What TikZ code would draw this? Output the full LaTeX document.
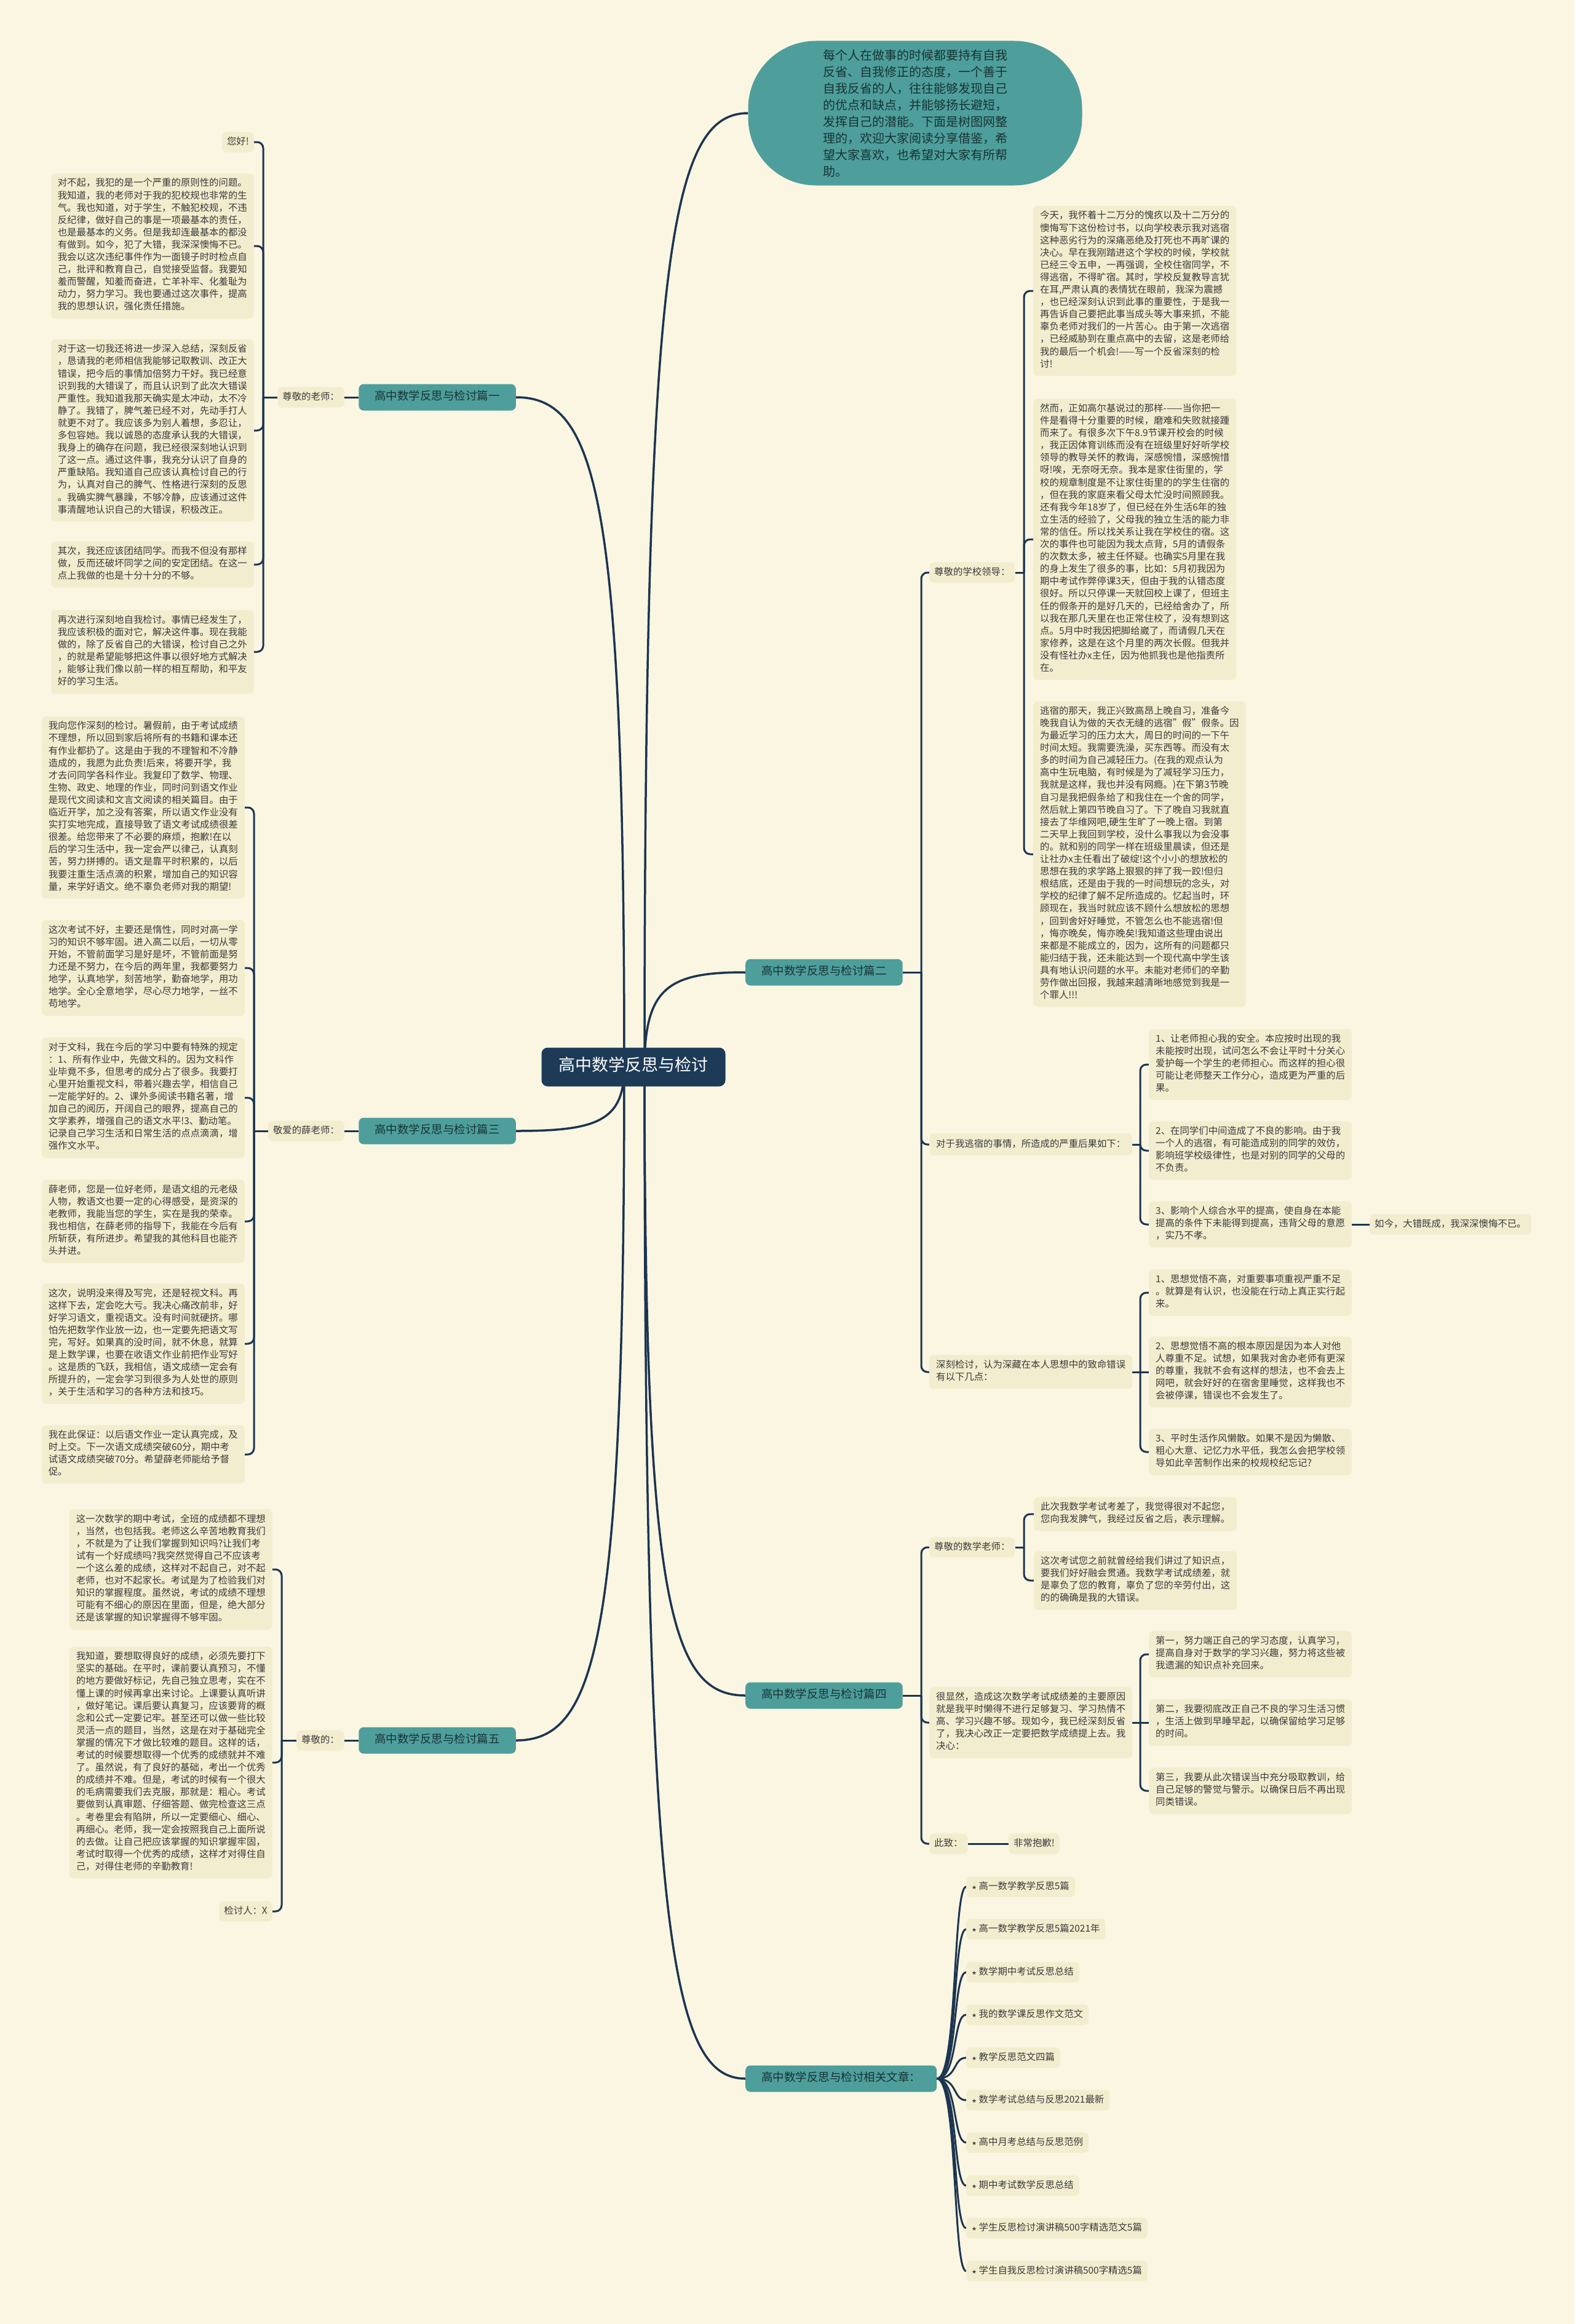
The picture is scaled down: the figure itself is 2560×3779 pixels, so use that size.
\documentclass[tikz,border=0pt]{standalone}
\usepackage{fontspec}
\setmainfont{Noto Sans CJK SC}
\newfontfamily\starfont{DejaVu Sans}
\usetikzlibrary{calc}
\definecolor{bgc}{HTML}{FAF6E2}
\definecolor{boxc}{HTML}{F3EDCF}
\definecolor{linec}{HTML}{1C3550}
\definecolor{tealc}{HTML}{4E9E9C}
\definecolor{navyc}{HTML}{1D3A56}
\definecolor{textc}{HTML}{3A3A3A}
\definecolor{darkt}{HTML}{173434}
\newcommand\fsz{\fontsize{15.4}{20.1}\selectfont}
\newcommand\fbr{\fontsize{18.5}{24}\selectfont}
\newcommand\frt{\fontsize{27}{34}\selectfont}
\newcommand\fintro{\fontsize{20}{27}\selectfont}
\pgfdeclarelayer{bg}
\pgfsetlayers{bg,main}
\tikzset{
 txt/.style={fill=boxc, rounded corners=7pt, inner xsep=11pt, inner ysep=8pt, align=left, text=textc, font=\fsz, execute at begin node=\strut, execute at end node=\strut},
 lbl/.style={txt, inner xsep=8pt, inner ysep=6.5pt},
 itm/.style={txt, inner xsep=9pt, inner ysep=6.5pt},
 branch/.style={fill=tealc, rounded corners=8pt, inner xsep=26pt, inner ysep=9.5pt, font=\fbr, text=darkt, execute at begin node=\strut},
 rootnode/.style={fill=navyc, rounded corners=10pt, inner xsep=28pt, inner ysep=14.5pt, font=\frt, text=white, execute at begin node=\strut},
 intro/.style={fill=tealc, rounded corners=110pt, minimum width=543pt, minimum height=235pt, align=left, font=\fintro, text=darkt, inner sep=0pt},
 conn/.style={draw=linec, line width=3pt},
 brk/.style={conn, rounded corners=10pt}
}
\begin{document}
\begin{tikzpicture}[x=1pt,y=-1pt]
\useasboundingbox (0,0) rectangle (2560,3779);

% ---------- root and branches ----------
\node[rootnode] (root) at (1030,1735) {高中数学反思与检讨};
\node[intro] (intro) at (1488,184) {每个人在做事的时候都要持有自我\\反省、自我修正的态度，一个善于\\自我反省的人，往往能够发现自己\\的优点和缺点，并能够扬长避短，\\发挥自己的潜能。下面是树图网整\\理的，欢迎大家阅读分享借鉴，希\\望大家喜欢，也希望对大家有所帮\\助。};
\node[branch, anchor=east] (p1) at (839,646) {高中数学反思与检讨篇一};
\node[branch, anchor=east] (p3) at (839,1839) {高中数学反思与检讨篇三};
\node[branch, anchor=east] (p5) at (839,2830) {高中数学反思与检讨篇五};
\node[branch, anchor=west] (p2) at (1212,1581) {高中数学反思与检讨篇二};
\node[branch, anchor=west] (p4) at (1212,2757) {高中数学反思与检讨篇四};
\node[branch, anchor=west] (rel) at (1212,3380) {高中数学反思与检讨相关文章：};

% ---------- branch 1 ----------
\node[lbl, anchor=east] (q1) at (560,646) {尊敬的老师：};
\coordinate (s1) at (428,646);
\node[lbl, anchor=east] (hi) at (413,231) {您好!};
\node[txt, anchor=east] (b1) at (413,400) {对不起，我犯的是一个严重的原则性的问题。\\我知道，我的老师对于我的犯校规也非常的生\\气。我也知道，对于学生，不触犯校规，不违\\反纪律，做好自己的事是一项最基本的责任，\\也是最基本的义务。但是我却连最基本的都没\\有做到。如今，犯了大错，我深深懊悔不已。\\我会以这次违纪事件作为一面镜子时时检点自\\己，批评和教育自己，自觉接受监督。我要知\\羞而警醒，知羞而奋进，亡羊补牢、化羞耻为\\动力，努力学习。我也要通过这次事件，提高\\我的思想认识，强化责任措施。};
\node[txt, anchor=east] (b2) at (413,700) {对于这一切我还将进一步深入总结，深刻反省\\，恳请我的老师相信我能够记取教训、改正大\\错误，把今后的事情加倍努力干好。我已经意\\识到我的大错误了，而且认识到了此次大错误\\严重性。我知道我那天确实是太冲动，太不冷\\静了。我错了，脾气差已经不对，先动手打人\\就更不对了。我应该多为别人着想，多忍让，\\多包容她。我以诚恳的态度承认我的大错误，\\我身上的确存在问题，我已经很深刻地认识到\\了这一点。通过这件事，我充分认识了自身的\\严重缺陷。我知道自己应该认真检讨自己的行\\为，认真对自己的脾气、性格进行深刻的反思\\。我确实脾气暴躁，不够冷静，应该通过这件\\事清醒地认识自己的大错误，积极改正。};
\node[txt, anchor=east] (b3) at (413,918) {其次，我还应该团结同学。而我不但没有那样\\做，反而还破坏同学之间的安定团结。在这一\\点上我做的也是十分十分的不够。};
\node[txt, anchor=east] (b4) at (413,1060) {再次进行深刻地自我检讨。事情已经发生了，\\我应该积极的面对它，解决这件事。现在我能\\做的，除了反省自己的大错误，检讨自己之外\\，的就是希望能够把这件事以很好地方式解决\\，能够让我们像以前一样的相互帮助，和平友\\好的学习生活。};

% ---------- branch 3 ----------
\node[lbl, anchor=east] (q3) at (560,1839) {敬爱的薛老师：};
\coordinate (s3) at (413,1839);
\node[txt, anchor=east] (c1) at (398,1313) {我向您作深刻的检讨。暑假前，由于考试成绩\\不理想，所以回到家后将所有的书籍和课本还\\有作业都扔了。这是由于我的不理智和不冷静\\造成的，我愿为此负责!后来，将要开学，我\\才去问同学各科作业。我复印了数学、物理、\\生物、政史、地理的作业，同时问到语文作业\\是现代文阅读和文言文阅读的相关篇目。由于\\临近开学，加之没有答案，所以语文作业没有\\实打实地完成，直接导致了语文考试成绩很差\\很差。给您带来了不必要的麻烦，抱歉!在以\\后的学习生活中，我一定会严以律己，认真刻\\苦，努力拼搏的。语文是靠平时积累的，以后\\我要注重生活点滴的积累，增加自己的知识容\\量，来学好语文。绝不辜负老师对我的期望!};
\node[txt, anchor=east] (c2) at (398,1574) {这次考试不好，主要还是惰性，同时对高一学\\习的知识不够牢固。进入高二以后，一切从零\\开始，不管前面学习是好是坏，不管前面是努\\力还是不努力，在今后的两年里，我都要努力\\地学，认真地学，刻苦地学，勤奋地学，用功\\地学。全心全意地学，尽心尽力地学，一丝不\\苟地学。};
\node[txt, anchor=east] (c3) at (398,1785) {对于文科，我在今后的学习中要有特殊的规定\\：1、所有作业中，先做文科的。因为文科作\\业毕竟不多，但思考的成分占了很多。我要打\\心里开始重视文科，带着兴趣去学，相信自己\\一定能学好的。2、课外多阅读书籍名著，增\\加自己的阅历，开阔自己的眼界，提高自己的\\文学素养，增强自己的语文水平!3、勤动笔。\\记录自己学习生活和日常生活的点点滴滴，增\\强作文水平。};
\node[txt, anchor=east] (c4) at (398,1986) {薛老师，您是一位好老师，是语文组的元老级\\人物，教语文也要一定的心得感受，是资深的\\老教师，我能当您的学生，实在是我的荣幸。\\我也相信，在薛老师的指导下，我能在今后有\\所斩获，有所进步。希望我的其他科目也能齐\\头并进。};
\node[txt, anchor=east] (c5) at (398,2185) {这次，说明没来得及写完，还是轻视文科。再\\这样下去，定会吃大亏。我决心痛改前非，好\\好学习语文，重视语文。没有时间就硬挤。哪\\怕先把数学作业放一边，也一定要先把语文写\\完，写好。如果真的没时间，就不休息，就算\\是上数学课，也要在收语文作业前把作业写好\\。这是质的飞跃，我相信，语文成绩一定会有\\所提升的，一定会学习到很多为人处世的原则\\，关于生活和学习的各种方法和技巧。};
\node[txt, anchor=east] (c6) at (398,2365) {我在此保证：以后语文作业一定认真完成，及\\时上交。下一次语文成绩突破60分，期中考\\试语文成绩突破70分。希望薛老师能给予督\\促。};

% ---------- branch 5 ----------
\node[lbl, anchor=east] (q5) at (560,2830) {尊敬的：};
\coordinate (s5) at (458,2830);
\node[txt, anchor=east] (e1) at (443,2552) {这一次数学的期中考试，全班的成绩都不理想\\，当然，也包括我。老师这么辛苦地教育我们\\，不就是为了让我们掌握到知识吗?让我们考\\试有一个好成绩吗?我突然觉得自己不应该考\\一个这么差的成绩，这样对不起自己，对不起\\老师，也对不起家长。考试是为了检验我们对\\知识的掌握程度。虽然说，考试的成绩不理想\\可能有不细心的原因在里面，但是，绝大部分\\还是该掌握的知识掌握得不够牢固。};
\node[txt, anchor=east] (e2) at (443,2866) {我知道，要想取得良好的成绩，必须先要打下\\坚实的基础。在平时，课前要认真预习，不懂\\的地方要做好标记，先自己独立思考，实在不\\懂上课的时候再拿出来讨论。上课要认真听讲\\，做好笔记。课后要认真复习，应该要背的概\\念和公式一定要记牢。甚至还可以做一些比较\\灵活一点的题目，当然，这是在对于基础完全\\掌握的情况下才做比较难的题目。这样的话，\\考试的时候要想取得一个优秀的成绩就并不难\\了。虽然说，有了良好的基础，考出一个优秀\\的成绩并不难。但是，考试的时候有一个很大\\的毛病需要我们去克服，那就是：粗心。考试\\要做到认真审题、仔细答题、做完检查这三点\\。考卷里会有陷阱，所以一定要细心、细心、\\再细心。老师，我一定会按照我自己上面所说\\的去做。让自己把应该掌握的知识掌握牢固，\\考试时取得一个优秀的成绩，这样才对得住自\\己，对得住老师的辛勤教育!};
\node[lbl, anchor=east] (e3) at (443,3108) {检讨人：X};

% ---------- branch 2 ----------
\coordinate (s2) at (1498,1581);
\node[lbl, anchor=west] (q2a) at (1511,931) {尊敬的学校领导：};
\node[txt, anchor=west] (q2b) at (1511,1861) {对于我逃宿的事情，所造成的严重后果如下：};
\node[txt, anchor=west] (q2c) at (1511,2231) {深刻检讨，认为深藏在本人思想中的致命错误\\有以下几点：};
\coordinate (sd) at (1665,931);
\node[txt, anchor=west] (d1) at (1680,473) {今天，我怀着十二万分的愧疚以及十二万分的\\懊悔写下这份检讨书，以向学校表示我对逃宿\\这种恶劣行为的深痛恶绝及打死也不再旷课的\\决心。早在我刚踏进这个学校的时候，学校就\\已经三令五申，一再强调，全校住宿同学，不\\得逃宿，不得旷宿。其时，学校反复教导言犹\\在耳,严肃认真的表情犹在眼前，我深为震撼\\，也已经深刻认识到此事的重要性，于是我一\\再告诉自己要把此事当成头等大事来抓，不能\\辜负老师对我们的一片苦心。由于第一次逃宿\\，已经威胁到在重点高中的去留，这是老师给\\我的最后一个机会!——写一个反省深刻的检\\讨!};
\node[txt, anchor=west] (d2) at (1680,877) {然而，正如高尔基说过的那样-——当你把一\\件是看得十分重要的时候，磨难和失败就接踵\\而来了。有很多次下午8.9节课开校会的时候\\，我正因体育训练而没有在班级里好好听学校\\领导的教导关怀的教诲，深感惋惜，深感惋惜\\呀!唉，无奈呀无奈。我本是家住街里的，学\\校的规章制度是不让家住街里的的学生住宿的\\，但在我的家庭来看父母太忙没时间照顾我。\\还有我今年18岁了，但已经在外生活6年的独\\立生活的经验了，父母我的独立生活的能力非\\常的信任。所以找关系让我在学校住的宿。这\\次的事件也可能因为我太点背，5月的请假条\\的次数太多，被主任怀疑。也确实5月里在我\\的身上发生了很多的事，比如：5月初我因为\\期中考试作弊停课3天，但由于我的认错态度\\很好。所以只停课一天就回校上课了，但班主\\任的假条开的是好几天的，已经给舍办了，所\\以我在那几天里在也正常住校了，没有想到这\\点。5月中时我因把脚给崴了，而请假几天在\\家修养，这是在这个月里的两次长假。但我并\\没有怪社办x主任，因为他抓我也是他指责所\\在。};
\node[txt, anchor=west] (d3) at (1680,1389) {逃宿的那天，我正兴致高昂上晚自习，准备今\\晚我自认为做的天衣无缝的逃宿"假"假条。因\\为最近学习的压力太大，周日的时间的一下午\\时间太短。我需要洗澡，买东西等。而没有太\\多的时间为自己减轻压力。(在我的观点认为\\高中生玩电脑，有时候是为了减轻学习压力，\\我就是这样，我也并没有网瘾。)在下第3节晚\\自习是我把假条给了和我住在一个舍的同学，\\然后就上第四节晚自习了。下了晚自习我就直\\接去了华维网吧,硬生生旷了一晚上宿。到第\\二天早上我回到学校，没什么事我以为会没事\\的。就和别的同学一样在班级里晨读，但还是\\让社办x主任看出了破绽!这个小小的想放松的\\思想在我的求学路上狠狠的拌了我一跤!但归\\根结底，还是由于我的一时间想玩的念头，对\\学校的纪律了解不足所造成的。忆起当时，环\\顾现在，我当时就应该不顾什么想放松的思想\\，回到舍好好睡觉，不管怎么也不能逃宿!但\\，悔亦晚矣，悔亦晚矣!我知道这些理由说出\\来都是不能成立的，因为，这所有的问题都只\\能归结于我，还未能达到一个现代高中学生该\\具有地认识问题的水平。未能对老师们的辛勤\\劳作做出回报，我越来越清晰地感觉到我是一\\个罪人!!!};
\coordinate (sf) at (1854,1861);
\node[txt, anchor=west] (f1) at (1868,1731) {1、让老师担心我的安全。本应按时出现的我\\未能按时出现，试问怎么不会让平时十分关心\\爱护每一个学生的老师担心。而这样的担心很\\可能让老师整天工作分心，造成更为严重的后\\果。};
\node[txt, anchor=west] (f2) at (1868,1871) {2、在同学们中间造成了不良的影响。由于我\\一个人的逃宿，有可能造成别的同学的效仿，\\影响班学校级律性，也是对别的同学的父母的\\不负责。};
\node[txt, anchor=west] (f3) at (1868,1991) {3、影响个人综合水平的提高，使自身在本能\\提高的条件下未能得到提高，违背父母的意愿\\，实乃不孝。};
\node[lbl, anchor=west] (f4) at (2227,1991) {如今，大错既成，我深深懊悔不已。};
\coordinate (sg) at (1854,2231);
\node[txt, anchor=west] (g1) at (1868,2102) {1、思想觉悟不高，对重要事项重视严重不足\\。就算是有认识，也没能在行动上真正实行起\\来。};
\node[txt, anchor=west] (g2) at (1868,2231) {2、思想觉悟不高的根本原因是因为本人对他\\人尊重不足。试想，如果我对舍办老师有更深\\的尊重，我就不会有这样的想法，也不会去上\\网吧，就会好好的在宿舍里睡觉，这样我也不\\会被停课，错误也不会发生了。};
\node[txt, anchor=west] (g3) at (1868,2361) {3、平时生活作风懒散。如果不是因为懒散、\\粗心大意、记忆力水平低，我怎么会把学校领\\导如此辛苦制作出来的校规校纪忘记?};

% ---------- branch 4 ----------
\coordinate (s4) at (1498,2757);
\node[lbl, anchor=west] (q4a) at (1511,2516) {尊敬的数学老师：};
\node[txt, anchor=west] (q4b) at (1511,2801) {很显然，造成这次数学考试成绩差的主要原因\\就是我平时懒得不进行足够复习、学习热情不\\高、学习兴趣不够。现如今，我已经深刻反省\\了，我决心改正一定要把数学成绩提上去。我\\决心：};
\node[lbl, anchor=west] (q4c) at (1511,2998) {此致：};
\node[lbl, anchor=west] (q4d) at (1640,2998) {非常抱歉!};
\coordinate (sh) at (1665,2516);
\node[txt, anchor=west] (h1) at (1681,2462) {此次我数学考试考差了，我觉得很对不起您，\\您向我发脾气，我经过反省之后，表示理解。};
\node[txt, anchor=west] (h2) at (1681,2570) {这次考试您之前就曾经给我们讲过了知识点，\\要我们好好融会贯通。我数学考试成绩差，就\\是辜负了您的教育，辜负了您的辛劳付出，这\\的的确确是我的大错误。};
\coordinate (si) at (1854,2801);
\node[txt, anchor=west] (i1) at (1868,2690) {第一，努力端正自己的学习态度，认真学习，\\提高自身对于数学的学习兴趣，努力将这些被\\我遗漏的知识点补充回来。};
\node[txt, anchor=west] (i2) at (1868,2801) {第二，我要彻底改正自己不良的学习生活习惯\\，生活上做到早睡早起，以确保留给学习足够\\的时间。};
\node[txt, anchor=west] (i3) at (1868,2912) {第三，我要从此次错误当中充分吸取教训，给\\自己足够的警觉与警示。以确保日后不再出现\\同类错误。};

% ---------- related ----------
\node[itm, anchor=west] (r0) at (1571,3068) {{\starfont\small ★}\ 高一数学教学反思5篇};
\node[itm, anchor=west] (r1) at (1571,3137) {{\starfont\small ★}\ 高一数学教学反思5篇2021年};
\node[itm, anchor=west] (r2) at (1571,3207) {{\starfont\small ★}\ 数学期中考试反思总结};
\node[itm, anchor=west] (r3) at (1571,3276) {{\starfont\small ★}\ 我的数学课反思作文范文};
\node[itm, anchor=west] (r4) at (1571,3346) {{\starfont\small ★}\ 教学反思范文四篇};
\node[itm, anchor=west] (r5) at (1571,3415) {{\starfont\small ★}\ 数学考试总结与反思2021最新};
\node[itm, anchor=west] (r6) at (1571,3484) {{\starfont\small ★}\ 高中月考总结与反思范例};
\node[itm, anchor=west] (r7) at (1571,3554) {{\starfont\small ★}\ 期中考试数学反思总结};
\node[itm, anchor=west] (r8) at (1571,3623) {{\starfont\small ★}\ 学生反思检讨演讲稿500字精选范文5篇};
\node[itm, anchor=west] (r9) at (1571,3693) {{\starfont\small ★}\ 学生自我反思检讨演讲稿500字精选5篇};

% ---------- connectors ----------
\begin{pgfonlayer}{bg}
\fill[bgc] (0,0) rectangle (2560,3779);
\coordinate (rl) at (1015,1735);
\coordinate (rr) at (1048,1735);
\draw[conn, line width=3.5pt] (rl) .. controls (1015,809) and (971,646) .. (p1.east);
\draw[conn, line width=3.5pt] (rl) .. controls (1015,1823) and (971,1839) .. (p3.east);
\draw[conn, line width=3.5pt] (rl) .. controls (1015,2666) and (971,2830) .. (p5.east);
\draw[conn, line width=3.5pt] (rr) .. controls (1048,417) and (1090,184) .. (intro.west);
\draw[conn, line width=3.5pt] (rr) .. controls (1048,1604) and (1089,1581) .. (p2.west);
\draw[conn, line width=3.5pt] (rr) .. controls (1048,2604) and (1089,2757) .. (p4.west);
\draw[conn, line width=3.5pt] (rr) .. controls (1048,3133) and (1089,3380) .. (rel.west);
% branch 1
\draw[conn] (p1.west) -- (q1.east);
\draw[conn] (q1.west) -- (s1);
\foreach \c in {hi,b1,b2,b3,b4} {\draw[brk] (s1) |- (\c.east);}
% branch 3
\draw[conn] (p3.west) -- (q3.east);
\draw[conn] (q3.west) -- (s3);
\foreach \c in {c1,c2,c3,c4,c5,c6} {\draw[brk] (s3) |- (\c.east);}
% branch 5
\draw[conn] (p5.west) -- (q5.east);
\draw[conn] (q5.west) -- (s5);
\foreach \c in {e1,e2,e3} {\draw[brk] (s5) |- (\c.east);}
% branch 2
\draw[conn] (p2.east) -- (s2);
\foreach \c in {q2a,q2b,q2c} {\draw[brk] (s2) |- (\c.west);}
\draw[conn] (q2a.east) -- (sd);
\foreach \c in {d1,d2,d3} {\draw[brk] (sd) |- (\c.west);}
\draw[conn] (q2b.east) -- (sf);
\foreach \c in {f1,f2,f3} {\draw[brk] (sf) |- (\c.west);}
\draw[conn] (f3.east) -- (f4.west);
\draw[conn] (q2c.east) -- (sg);
\draw[brk] (sg) |- (g1.west);
\draw[conn] (sg) -- (g2.west);
\draw[brk] (sg) |- (g3.west);
% branch 4
\draw[conn] (p4.east) -- (s4);
\foreach \c in {q4a,q4b,q4c} {\draw[brk] (s4) |- (\c.west);}
\draw[conn] (q4a.east) -- (sh);
\foreach \c in {h1,h2} {\draw[brk] (sh) |- (\c.west);}
\draw[conn] (q4b.east) -- (si);
\draw[brk] (si) |- (i1.west);
\draw[conn] (si) -- (i2.west);
\draw[brk] (si) |- (i3.west);
\draw[conn] (q4c.east) -- (q4d.west);
% related
\foreach \c in {r0,r1,r2,r3,r4,r5,r6,r7,r8,r9} {\draw[conn] (rel.east) .. controls ($(rel.east)+(34,0)$) and ($(\c.west)+(-22,0)$) .. (\c.west);}
\end{pgfonlayer}
\end{tikzpicture}
\end{document}
